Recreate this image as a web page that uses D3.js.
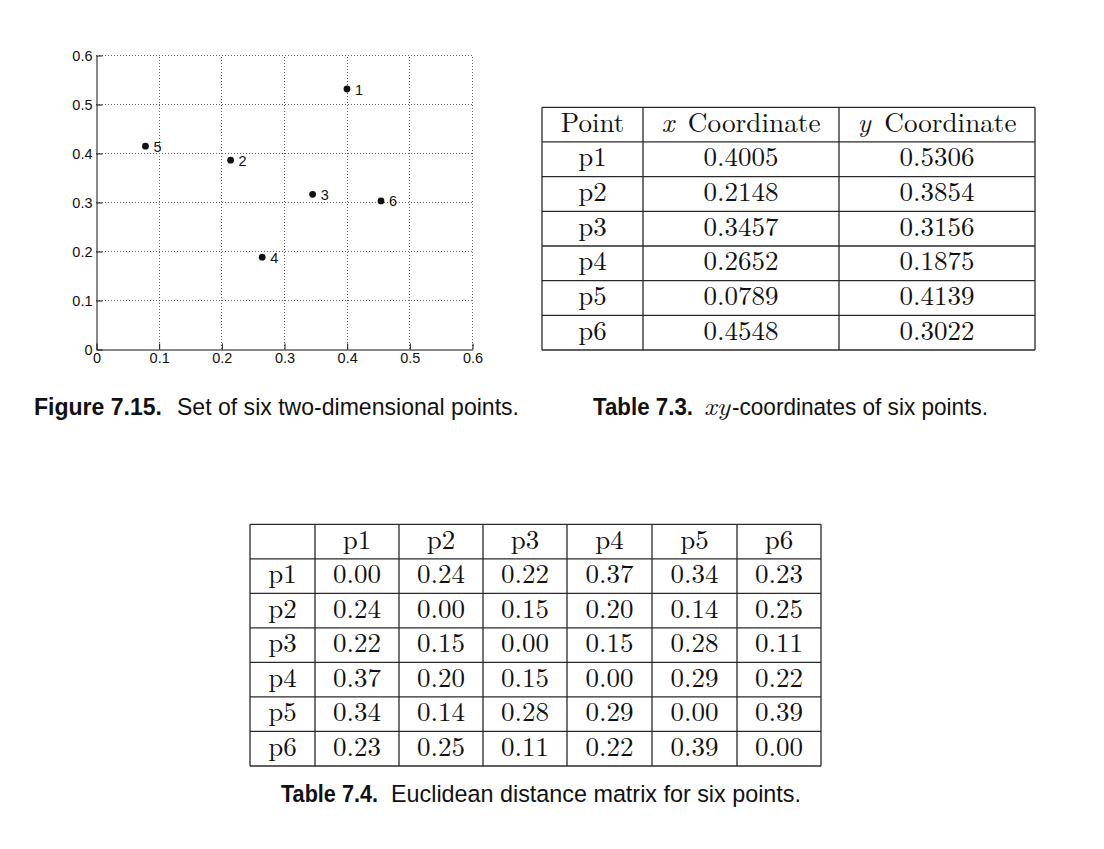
<!DOCTYPE html>
<html>
<head>
<meta charset="utf-8">
<script src="https://cdn.jsdelivr.net/npm/d3@7"></script>
<style>
  html, body { margin: 0; padding: 0; background: #fff; }
  svg { display: block; }
</style>
</head>
<body>
<svg id="chart" width="1104" height="849"></svg>
<script>
// ---------- data ----------
const pointNames = ["p1", "p2", "p3", "p4", "p5", "p6"];
const pointLabels = ["1", "2", "3", "4", "5", "6"];
const xCoords = [0.4005, 0.2148, 0.3457, 0.2652, 0.0789, 0.4548];
const yCoords = [0.5306, 0.3854, 0.3156, 0.1875, 0.4139, 0.3022];
const xTicks = [0, 0.1, 0.2, 0.3, 0.4, 0.5, 0.6];
const yTicks = [0, 0.1, 0.2, 0.3, 0.4, 0.5, 0.6];
const coordHeaders = ["Point", "x", "y"];
const distances = [
  [0.00, 0.24, 0.22, 0.37, 0.34, 0.23],
  [0.24, 0.00, 0.15, 0.20, 0.14, 0.25],
  [0.22, 0.15, 0.00, 0.15, 0.28, 0.11],
  [0.37, 0.20, 0.15, 0.00, 0.29, 0.22],
  [0.34, 0.14, 0.28, 0.29, 0.00, 0.39],
  [0.23, 0.25, 0.11, 0.22, 0.39, 0.00]
];

// ---------- setup ----------
const svg = d3.select("#chart");
svg.append("rect").attr("width", 1104).attr("height", 849).attr("fill", "#fff");
const SANS = "'Liberation Sans', Arial, sans-serif";
const NARROW = "'Liberation Sans Narrow', 'Arial Narrow', 'Liberation Sans', sans-serif";
const SERIF = "'Latin Modern Roman', 'CMU Serif', 'Liberation Serif', 'Times New Roman', serif";

// ---------- scatter plot ----------
const x = d3.scaleLinear().domain([0, 0.6]).range([96, 472]);
const y = d3.scaleLinear().domain([0, 0.6]).range([349, 55]);
const fmt = d => d === 0 ? "0" : d3.format(".1f")(d);

const grid = svg.append("g").attr("stroke", "#666").attr("stroke-width", 1)
  .attr("stroke-dasharray", "1,2").attr("fill", "none");
grid.selectAll("line.v").data(xTicks.filter(d => d > 0)).join("line")
  .attr("class", "v")
  .attr("x1", d => Math.round(x(d)) + 0.5).attr("x2", d => Math.round(x(d)) + 0.5)
  .attr("y1", y(0)).attr("y2", y(0.6));
grid.selectAll("line.h").data(yTicks.filter(d => d > 0)).join("line")
  .attr("class", "h")
  .attr("y1", d => Math.round(y(d)) + 0.5).attr("y2", d => Math.round(y(d)) + 0.5)
  .attr("x1", x(0)).attr("x2", x(0.6));

const xAxis = svg.append("g").attr("transform", "translate(0.5," + (y(0) + 0.5) + ")")
  .call(d3.axisBottom(x).tickValues(xTicks).tickFormat(fmt).tickSize(-6).tickSizeOuter(0).tickPadding(3));
const yAxis = svg.append("g").attr("transform", "translate(" + (x(0) + 0.5) + ",0.5)")
  .call(d3.axisLeft(y).tickValues(yTicks).tickFormat(fmt).tickSize(-6).tickSizeOuter(0).tickPadding(4));
[xAxis, yAxis].forEach(a => {
  a.attr("font-family", SANS).attr("font-size", 14.5);
  a.selectAll("text").style("font-family", SANS).style("font-size", "14.5px").attr("fill", "#111");
  a.selectAll("line, path").attr("stroke", "#111");
});
xAxis.selectAll("text").attr("dy", "0.72em");
yAxis.selectAll("text").attr("dy", "0.36em");

const pts = svg.append("g").selectAll("g").data(pointNames).join("g")
  .attr("transform", (d, i) => "translate(" + x(xCoords[i]) + "," + y(yCoords[i]) + ")");
pts.append("circle").attr("r", 3.4).attr("fill", "#111");
pts.append("text").attr("x", 8).attr("dy", "0.38em")
  .style("font-family", SANS).style("font-size", "14.5px").attr("fill", "#111")
  .text((d, i) => pointLabels[i]);

// ---------- caption helper ----------
function caption(parts, baseline) {
  const g = svg.append("g");
  parts.forEach(p => {
    g.append("text").attr("x", p.x).attr("y", baseline)
      .style("font-family", p.serif ? SERIF : NARROW)
      .attr("font-style", p.italic ? "italic" : "normal")
      .attr("font-weight", p.bold ? "bold" : "normal")
      .style("font-size", (p.size || 24.5) + "px").attr("fill", "#111")
      .attr("textLength", p.len).attr("lengthAdjust", "spacingAndGlyphs")
      .text(p.t);
  });
}
caption([
  { t: "Figure 7.15.", x: 34, len: 128, bold: true },
  { t: "Set of six two-dimensional points.", x: 177, len: 342 }
], 414.5);
caption([
  { t: "Table 7.3.", x: 593, len: 100, bold: true },
  { t: "xy", x: 704, len: 26, serif: true, italic: true, size: 25 },
  { t: "-coordinates of six points.", x: 732, len: 256 }
], 414.5);
caption([
  { t: "Table 7.4.", x: 281, len: 97, bold: true },
  { t: "Euclidean distance matrix for six points.", x: 391, len: 410 }
], 801.5);

// ---------- table helper ----------
function drawTable(colEdges, top, bottom, nRows, cellFn) {
  const row = d3.scaleLinear().domain([0, nRows]).range([top, bottom]);
  const g = svg.append("g");
  const lines = g.append("g").attr("stroke", "#2a2a2a").attr("stroke-width", 1.3);
  d3.range(nRows + 1).forEach(r => {
    lines.append("line").attr("x1", colEdges[0]).attr("x2", colEdges[colEdges.length - 1])
      .attr("y1", row(r)).attr("y2", row(r));
  });
  colEdges.forEach(cx => {
    lines.append("line").attr("x1", cx).attr("x2", cx).attr("y1", top).attr("y2", bottom);
  });
  for (let r = 0; r < nRows; r++) {
    for (let c = 0; c < colEdges.length - 1; c++) {
      const cell = cellFn(r, c);
      if (!cell) continue;
      const t = g.append("text")
        .attr("x", (colEdges[c] + colEdges[c + 1]) / 2)
        .attr("y", row(r) + 24.5)
        .attr("text-anchor", "middle")
        .style("font-family", SERIF).style("font-size", "27px").attr("fill", "#111");
      if (cell.italic) {
        t.append("tspan").attr("font-style", "italic").text(cell.italic);
        t.append("tspan").text("\u00a0" + cell.text);
        if (cell.len) t.attr("textLength", cell.len).attr("lengthAdjust", "spacingAndGlyphs");
      } else {
        t.text(cell.text);
      }
    }
  }
}

// Table 7.3
const f4 = d3.format(".4f");
drawTable([542, 643, 839, 1035], 107.3, 350, 7, (r, c) => {
  if (r === 0) {
    if (c === 0) return { text: coordHeaders[0] };
    return { italic: coordHeaders[c], text: "Coordinate", len: 159 };
  }
  const i = r - 1;
  if (c === 0) return { text: pointNames[i] };
  if (c === 1) return { text: f4(xCoords[i]) };
  return { text: f4(yCoords[i]) };
});

// Table 7.4
const f2 = d3.format(".2f");
drawTable([250, 315, 399, 483, 567, 652, 737, 821], 524.3, 766, 7, (r, c) => {
  if (r === 0) return c === 0 ? null : { text: pointNames[c - 1] };
  if (c === 0) return { text: pointNames[r - 1] };
  return { text: f2(distances[r - 1][c - 1]) };
});
</script>
</body>
</html>
